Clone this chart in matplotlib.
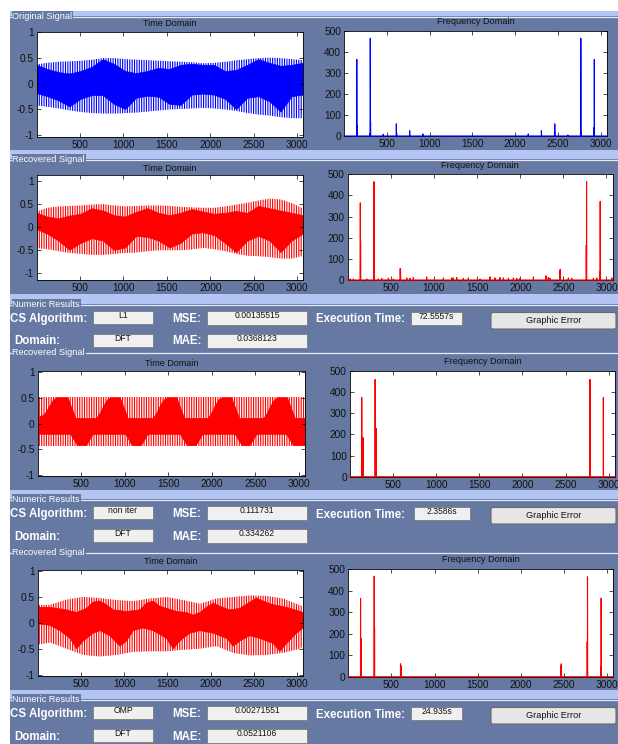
import numpy as np
import matplotlib
matplotlib.use("Agg")
import matplotlib.pyplot as plt
from matplotlib.patches import Rectangle, FancyBboxPatch

plt.rcParams['font.family'] = ['Liberation Sans', 'DejaVu Sans']
plt.rcParams['axes.unicode_minus'] = False
plt.rcParams['hatch.linewidth'] = 0.8

# ---------------- data ----------------
N_SAMPLES = 3072
T_X = [1, 128, 256, 384, 512, 640, 768, 896, 1024, 1152, 1280, 1408, 1536,
       1664, 1792, 1920, 2048, 2176, 2304, 2432, 2560, 2688, 2816, 2944, 3072]

# Original signal envelopes (panel 1)
P1_OUT_UP = [0.38, 0.41, 0.43, 0.44, 0.45, 0.47, 0.50, 0.50, 0.48, 0.47, 0.46, 0.45, 0.44,
             0.43, 0.42, 0.40, 0.41, 0.43, 0.46, 0.48, 0.50, 0.51, 0.50, 0.48, 0.46]
P1_IN_UP = [0.36, 0.28, 0.22, 0.19, 0.24, 0.32, 0.47, 0.38, 0.24, 0.20, 0.24, 0.30, 0.28,
            0.36, 0.38, 0.36, 0.36, 0.24, 0.26, 0.36, 0.47, 0.40, 0.34, 0.36, 0.40]
P1_IN_LO = [-0.19, -0.25, -0.33, -0.45, -0.30, -0.23, -0.23, -0.40, -0.50, -0.28, -0.24, -0.26, -0.40,
            -0.42, -0.22, -0.20, -0.22, -0.30, -0.50, -0.28, -0.25, -0.35, -0.55, -0.25, -0.22]
P1_OUT_LO = [-0.42, -0.45, -0.48, -0.52, -0.55, -0.57, -0.58, -0.58, -0.57, -0.56, -0.54, -0.52, -0.50,
             -0.49, -0.48, -0.47, -0.48, -0.50, -0.53, -0.57, -0.60, -0.62, -0.65, -0.67, -0.67]

# Recovered signal, L1 (panel 2)
P2_OUT_UP = [0.34, 0.42, 0.45, 0.46, 0.47, 0.49, 0.50, 0.47, 0.45, 0.46, 0.47, 0.47, 0.46,
             0.44, 0.43, 0.42, 0.42, 0.45, 0.49, 0.53, 0.58, 0.62, 0.60, 0.52, 0.40]
P2_IN_UP = [0.30, 0.22, 0.18, 0.24, 0.28, 0.40, 0.35, 0.25, 0.22, 0.32, 0.40, 0.30, 0.25,
            0.30, 0.38, 0.33, 0.28, 0.30, 0.34, 0.30, 0.45, 0.40, 0.35, 0.30, 0.25]
P2_IN_LO = [-0.05, -0.15, -0.30, -0.50, -0.35, -0.25, -0.30, -0.50, -0.45, -0.20, -0.22, -0.30, -0.45,
            -0.35, -0.15, -0.12, -0.18, -0.35, -0.55, -0.30, -0.20, -0.30, -0.55, -0.30, -0.15]
P2_OUT_LO = [-0.45, -0.48, -0.52, -0.56, -0.58, -0.60, -0.60, -0.58, -0.56, -0.55, -0.52, -0.50, -0.50,
             -0.50, -0.48, -0.45, -0.48, -0.52, -0.58, -0.62, -0.63, -0.65, -0.68, -0.68, -0.62]

# Recovered signal, non iter (panel 3)
P3_OUT_X = [1, 3072]
P3_OUT_UP = [0.52, 0.52]
P3_OUT_LO = [-0.44, -0.44]
P3_IN_UP_X = [1, 60, 100, 140, 180, 220, 350, 390, 440,
              680, 720, 760, 800, 840, 950, 990, 1040,
              1330, 1370, 1410, 1450, 1490, 1600, 1640, 1690,
              1960, 2000, 2040, 2080, 2120, 2230, 2270, 2320,
              2600, 2640, 2680, 2720, 2760, 2870, 2910, 2960, 3072]
P3_IN_UP = [0.12, 0.15, 0.22, 0.34, 0.45, 0.50, 0.50, 0.32, 0.10,
            0.10, 0.20, 0.34, 0.45, 0.50, 0.50, 0.32, 0.10,
            0.10, 0.20, 0.34, 0.45, 0.50, 0.50, 0.32, 0.10,
            0.10, 0.20, 0.34, 0.45, 0.50, 0.50, 0.32, 0.10,
            0.10, 0.20, 0.34, 0.45, 0.50, 0.50, 0.32, 0.10, 0.10]
P3_IN_LO_X = [1, 380, 420, 460, 560, 600, 640,
              1010, 1050, 1090, 1190, 1230, 1270,
              1640, 1680, 1720, 1820, 1860, 1900,
              2270, 2310, 2350, 2440, 2480, 2520,
              2860, 2900, 2940, 3072]
P3_IN_LO = [-0.21, -0.21, -0.32, -0.43, -0.43, -0.32, -0.21,
            -0.21, -0.32, -0.43, -0.43, -0.32, -0.21,
            -0.21, -0.32, -0.43, -0.43, -0.32, -0.21,
            -0.21, -0.32, -0.43, -0.43, -0.32, -0.21,
            -0.21, -0.32, -0.43, -0.43]

# Recovered signal, OMP (panel 4)
P4_OUT_X = [8, 143, 335, 528, 720, 913, 1106, 1298, 1491, 1684, 1876, 2069, 2262, 2454, 2647, 2840, 3032, 3072]
P4_OUT_UP = [0.34, 0.35, 0.45, 0.50, 0.48, 0.44, 0.42, 0.47, 0.50, 0.44, 0.37, 0.47, 0.50, 0.53, 0.52, 0.47, 0.34, 0.32]
P4_OUT_LO = [-0.42, -0.38, -0.50, -0.62, -0.65, -0.62, -0.56, -0.55, -0.55, -0.52, -0.50, -0.45, -0.58, -0.63, -0.62, -0.58, -0.50, -0.45]
P4_IN_UP_X = [8, 143, 335, 451, 566, 643, 720, 798, 875, 1029, 1183, 1260, 1337, 1414, 1491,
              1607, 1722, 1799, 1876, 1953, 2031, 2108, 2223, 2339, 2454, 2531, 2608, 2724, 2878, 3072]
P4_IN_UP = [0.30, 0.30, 0.25, 0.20, 0.28, 0.40, 0.42, 0.35, 0.25, 0.22, 0.25, 0.38, 0.42, 0.32, 0.28,
            0.22, 0.20, 0.15, 0.20, 0.30, 0.38, 0.32, 0.25, 0.28, 0.40, 0.48, 0.42, 0.35, 0.30, 0.20]
P4_IN_LO_X = [8, 143, 258, 374, 451, 528, 643, 720, 836, 952, 1029, 1106, 1221, 1337, 1491,
              1568, 1645, 1761, 1876, 2031, 2185, 2262, 2339, 2454, 2570, 2724, 2801, 2878, 2994, 3072]
P4_IN_LO = [-0.02, -0.05, -0.15, -0.30, -0.50, -0.35, -0.20, -0.15, -0.25, -0.45, -0.35, -0.15, -0.10, -0.15, -0.30,
            -0.50, -0.35, -0.20, -0.15, -0.20, -0.30, -0.45, -0.35, -0.25, -0.30, -0.40, -0.55, -0.40, -0.20, -0.10]

# Frequency-domain spikes (bin index, magnitude)
F1_K = [147, 150, 300, 305, 308, 457, 610, 613, 766, 920, 2154, 2308, 2461, 2464, 2617, 2766, 2769, 2924, 2927]
F1_M = [365, 50, 10, 465, 70, 8, 58, 15, 25, 10, 10, 25, 20, 58, 5, 25, 465, 40, 365]

F2_K = [147, 150, 305, 308, 610, 613, 2461, 2464, 2766, 2769, 2924, 2927]
F2_M = [365, 185, 465, 230, 55, 50, 45, 50, 165, 465, 38, 372]
F2_NOISE_K = [28, 67, 221, 356, 395, 472, 530, 685, 723, 762, 916, 1110, 1206, 1225, 1264, 1341, 1399,
              1535, 1650, 1708, 1766, 1805, 1863, 1921, 1960, 1998, 2153, 2299, 2326, 2345, 2558, 2597,
              2848, 2887, 3061]
F2_NOISE_M = [5, 5, 5, 5, 8, 8, 5, 10, 8, 12, 15, 10, 10, 10, 12, 8, 10,
              5, 15, 10, 12, 10, 8, 10, 8, 8, 15, 20, 12, 8, 10, 8,
              8, 10, 10]

F3_K = [137, 152, 292, 306, 2782, 2937]
F3_M = [375, 185, 460, 228, 460, 375]

F4_K = [143, 147, 301, 305, 606, 610, 2465, 2469, 2770, 2773, 2928, 2931]
F4_M = [365, 178, 468, 230, 60, 52, 50, 60, 162, 465, 48, 365]

TIME_XTICKS = [500, 1000, 1500, 2000, 2500, 3000]
TIME_YTICKS = [-1, -0.5, 0, 0.5, 1]
TIME_YLABELS = ['-1', '-0.5', '0', '0.5', '1']
FREQ_YTICKS = [0, 100, 200, 300, 400, 500]

PANEL_TITLES = ['Original Signal', 'Recovered Signal', 'Recovered Signal', 'Recovered Signal']
ALGS = ['L1', 'non iter', 'OMP']
DOMAINS = ['DFT', 'DFT', 'DFT']
MSES = ['0.00135515', '0.111731', '0.00271551']
MAES = ['0.0368123', '0.334262', '0.0521106']
TIMES = ['72.5557s', '2.3586s', '24.935s']

# ---------------- layout ----------------
W, H = 618, 744
DPI = 100
SLATE = '#6679A3'
LIGHT = '#B3C5F3'

fig = plt.figure(figsize=(W / DPI, H / DPI), dpi=DPI)
fig.patch.set_facecolor(LIGHT)

gui = fig.add_axes([0, 0, 1, 1])
gui.set_xlim(0, W)
gui.set_ylim(H, 0)
gui.axis('off')

gui.add_patch(Rectangle((0, 0), W, 11, facecolor='white', edgecolor='none'))
gui.add_patch(Rectangle((0, 0), 10, H, facecolor='white', edgecolor='none'))


def panel(y0, y1, title):
    gui.add_patch(Rectangle((10, y0), W - 10, y1 - y0, facecolor=SLATE, edgecolor='none'))
    gui.plot([10, W], [y0 + 0.5, y0 + 0.5], color='#E4EAFB', lw=0.9)
    gui.text(12.5, y0 + 0.3, title, color='white', fontsize=6.6, ha='left', va='center',
             bbox=dict(facecolor=SLATE, edgecolor='none', pad=0.6))


SIG_PANELS = [(16, 150), (159, 294), (352, 490), (552, 690)]
NUM_PANELS = [(304, 352), (499, 552), (699, 760)]
for (y0, y1), t in zip(SIG_PANELS, PANEL_TITLES):
    panel(y0, y1, t)
for (y0, y1) in NUM_PANELS:
    panel(y0, y1, 'Numeric Results')


def box(x0, x1, y0, y1, text):
    gui.add_patch(Rectangle((x0, y0), x1 - x0, y1 - y0, facecolor='#F0F0F0',
                            edgecolor='#7C7C7C', lw=0.6))
    gui.text((x0 + x1) / 2, y0 + 4.8, text, fontsize=6.2, ha='center', va='center', color='#111111')


TIME_BOX = [(411, 462), (414, 470), (411, 462)]
for i, (yl, _) in enumerate(NUM_PANELS):
    lab = dict(color='white', fontsize=8.3, fontweight='bold', va='center', ha='left')
    gui.text(10.5, yl + 15, 'CS Algorithm:', **lab)
    gui.text(14, yl + 37.5, 'Domain:', **lab)
    gui.text(172, yl + 15, 'MSE:', **lab)
    gui.text(172, yl + 37.5, 'MAE:', **lab)
    gui.text(316, yl + 15.5, 'Execution Time:', **lab)
    box(93, 153, yl + 7, yl + 20, ALGS[i])
    box(93, 153, yl + 30, yl + 43, DOMAINS[i])
    box(207, 307, yl + 7, yl + 21, MSES[i])
    box(207, 307, yl + 30, yl + 44, MAES[i])
    tb = TIME_BOX[i]
    box(tb[0], tb[1], yl + 8, yl + 21, TIMES[i])
    gui.add_patch(FancyBboxPatch((491, yl + 8.5), 125, 16.5,
                                 boxstyle='round,pad=0,rounding_size=2',
                                 facecolor='#E6E6E6', edgecolor='#6A6A6A', lw=0.8))
    gui.text(553.5, yl + 16.8, 'Graphic Error', fontsize=6.6, ha='center', va='center', color='#111111')

AX_T = [(36.7, 303.3, 31.7, 136.7), (36.7, 303.3, 175, 280), (37.7, 305, 371, 476), (37.7, 303.3, 570, 675.7)]
AX_F = [(344.3, 606.7, 31, 136), (347.7, 612.7, 174.3, 280), (350, 615, 371, 476.7), (348.3, 613.3, 569.3, 676.7)]
TITLE_T_Y = [23.3, 168.3, 364, 561.7]
TITLE_F_Y = [21.7, 166, 361.7, 560]
T_YLIM = [(-1.03, 1.015), (-1.144, 1.13), (-1.02, 1.02), (-1.02, 1.02)]


def pax(r):
    x0, x1, yt, yb = r
    return fig.add_axes([x0 / W, 1 - yb / H, (x1 - x0) / W, (yb - yt) / H])


def style(ax):
    ax.set_facecolor('white')
    for s in ax.spines.values():
        s.set_linewidth(0.6)
        s.set_color('black')
    ax.tick_params(direction='in', length=3, width=0.5, top=True, right=True,
                   labelsize=7.3, pad=2.3, colors='black', labelcolor='#111111')


def draw_time(ax, ox, ou, olx, ol, iux, iu, ilx, il, color):
    ax.fill(np.r_[ox, olx[::-1]], np.r_[ou, ol[::-1]], facecolor='white',
            edgecolor=color, hatch='|||||||', lw=0)
    ax.fill(np.r_[iux, ilx[::-1]], np.r_[iu, il[::-1]], facecolor=color,
            edgecolor=color, lw=0.5)


def draw_freq(ax, ks, ms, color):
    mag = np.zeros(N_SAMPLES)
    for k, m in zip(ks, ms):
        mag[k - 1] = m
    ax.plot(np.arange(1, N_SAMPLES + 1), mag, color=color, lw=0.8, clip_on=False, zorder=3)


TX = np.array(T_X)
time_sets = [
    (TX, np.array(P1_OUT_UP), TX, np.array(P1_OUT_LO), TX, np.array(P1_IN_UP), TX, np.array(P1_IN_LO), '#0000FF'),
    (TX, np.array(P2_OUT_UP), TX, np.array(P2_OUT_LO), TX, np.array(P2_IN_UP), TX, np.array(P2_IN_LO), '#FF0000'),
    (np.array(P3_OUT_X), np.array(P3_OUT_UP), np.array(P3_OUT_X), np.array(P3_OUT_LO),
     np.array(P3_IN_UP_X), np.array(P3_IN_UP), np.array(P3_IN_LO_X), np.array(P3_IN_LO), '#FF0000'),
    (np.array(P4_OUT_X), np.array(P4_OUT_UP), np.array(P4_OUT_X), np.array(P4_OUT_LO),
     np.array(P4_IN_UP_X), np.array(P4_IN_UP), np.array(P4_IN_LO_X), np.array(P4_IN_LO), '#FF0000'),
]
freq_sets = [
    (F1_K, F1_M, '#0000FF'),
    (F2_K + F2_NOISE_K, F2_M + F2_NOISE_M, '#FF0000'),
    (F3_K, F3_M, '#FF0000'),
    (F4_K, F4_M, '#FF0000'),
]

for i in range(4):
    at = pax(AX_T[i])
    style(at)
    draw_time(at, *time_sets[i])
    at.set_xlim(1, N_SAMPLES)
    at.set_ylim(*T_YLIM[i])
    at.set_xticks(TIME_XTICKS)
    at.set_xticklabels([str(v) for v in TIME_XTICKS])
    at.set_yticks(TIME_YTICKS)
    at.set_yticklabels(TIME_YLABELS)
    x0, x1 = AX_T[i][0], AX_T[i][1]
    gui.text((x0 + x1) / 2, TITLE_T_Y[i], 'Time Domain', fontsize=6.5, ha='center', va='center', color='#111111')

    af = pax(AX_F[i])
    style(af)
    draw_freq(af, *freq_sets[i])
    af.set_xlim(1, N_SAMPLES)
    af.set_ylim(0, 500)
    af.set_xticks(TIME_XTICKS)
    af.set_xticklabels([str(v) for v in TIME_XTICKS])
    af.set_yticks(FREQ_YTICKS)
    af.set_yticklabels([str(v) for v in FREQ_YTICKS])
    x0, x1 = AX_F[i][0], AX_F[i][1]
    gui.text((x0 + x1) / 2, TITLE_F_Y[i], 'Frequency Domain', fontsize=6.6, ha='center', va='center', color='#111111')

fig.savefig('out.png', dpi=DPI, facecolor=fig.get_facecolor())
